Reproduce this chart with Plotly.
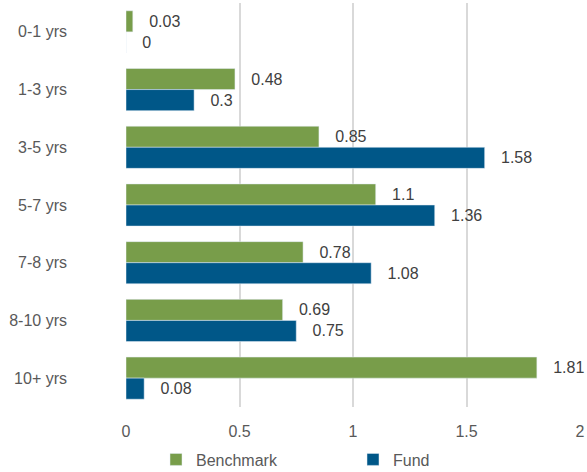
import plotly.graph_objects as go

categories = ["0-1 yrs", "1-3 yrs", "3-5 yrs", "5-7 yrs", "7-8 yrs", "8-10 yrs", "10+ yrs"]
benchmark = [0.03, 0.48, 0.85, 1.1, 0.78, 0.69, 1.81]
fund = [0, 0.3, 1.58, 1.36, 1.08, 0.75, 0.08]
tick_vals = [0, 0.5, 1, 1.5, 2]
tick_text = ["0", "0.5", "1", "1.5", "2"]

PAD = "\u00a0\u00a0\u00a0"
FONT = "Liberation Sans, Arial, sans-serif"
FS = 16

fig = go.Figure()
fig.add_trace(go.Bar(
    name="Benchmark", y=categories, x=benchmark, orientation="h",
    marker=dict(color="#789D4A"),
    text=[PAD + f"{v:g}" for v in benchmark], textposition="outside",
    textfont=dict(color="#404040", size=FS, family=FONT),
    cliponaxis=False, constraintext="none",
))
fig.add_trace(go.Bar(
    name="Fund", y=categories, x=fund, orientation="h",
    marker=dict(color="#005788"),
    text=[PAD + f"{v:g}" for v in fund], textposition="outside",
    textfont=dict(color="#404040", size=FS, family=FONT),
    cliponaxis=False, constraintext="none",
))

fig.update_layout(
    width=587, height=472,
    margin=dict(l=126, r=7, t=3, b=65, autoexpand=False),
    barmode="group", bargap=0.27, bargroupgap=0,
    plot_bgcolor="white", paper_bgcolor="white",
    font=dict(family=FONT, size=FS, color="#595959"),
    xaxis=dict(
        range=[0, 2], tickvals=tick_vals, ticktext=tick_text,
        showgrid=True, gridcolor="#D9D9D9", gridwidth=1.5,
        zeroline=False, showline=False, ticks="",
        tickfont=dict(size=FS, color="#595959"),
        ticklabelstandoff=13, automargin=False,
    ),
    yaxis=dict(
        autorange="reversed", showgrid=False, zeroline=False,
        ticks="", ticklabelstandoff=58, automargin=False,
        tickfont=dict(size=FS, color="#595959"),
    ),
    legend=dict(
        orientation="h", x=0.5, xanchor="center", y=-0.13, yanchor="middle",
        font=dict(size=FS, color="#595959"),
        entrywidth=152, entrywidthmode="pixels",
        itemwidth=30,
    ),
    showlegend=True,
)

fig.write_html(
    "out.html",
    config={"displayModeBar": False},
    post_script="document.body.style.margin='0';document.body.style.overflow='hidden';",
)
